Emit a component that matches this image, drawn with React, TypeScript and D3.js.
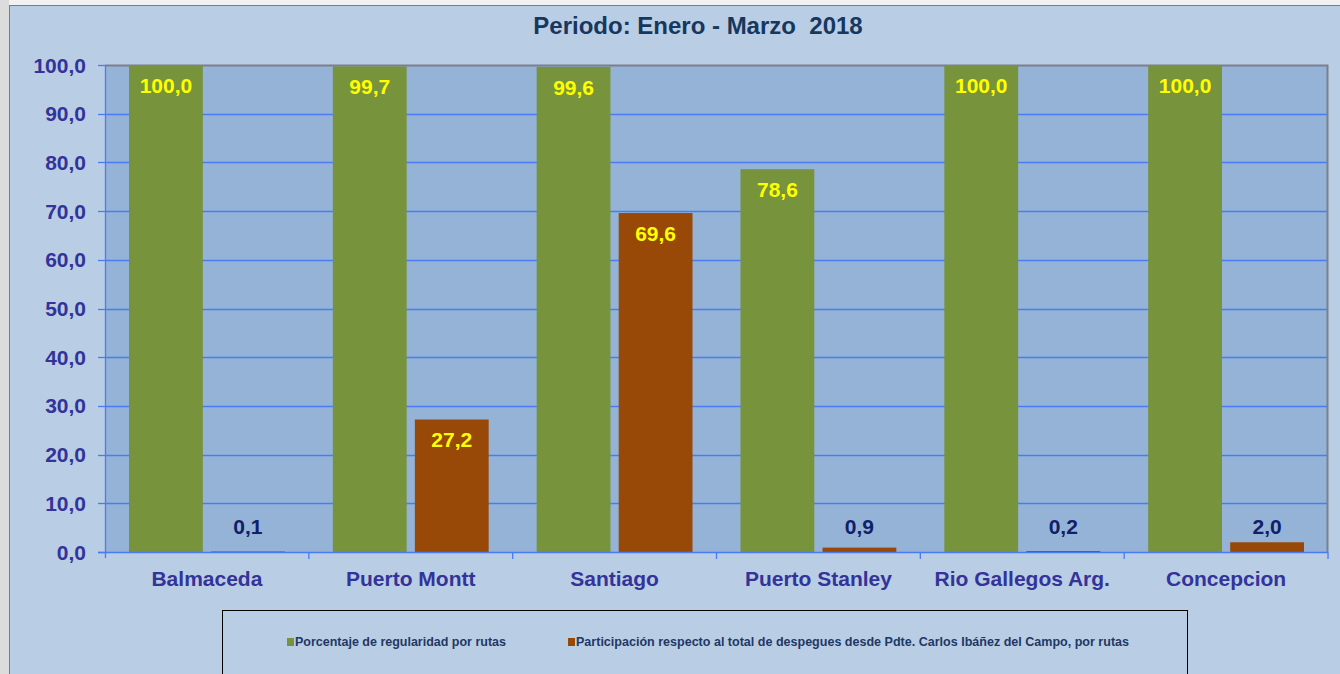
import React, { useRef, useEffect } from "react";
import { select, scaleBand, scaleLinear, range } from "d3";

const categories = ["Balmaceda", "Puerto Montt", "Santiago", "Puerto Stanley", "Rio Gallegos Arg.", "Concepcion"];
const regularidad = [100.0, 99.7, 99.6, 78.6, 100.0, 100.0];
const participacion = [0.1, 27.2, 69.6, 0.9, 0.2, 2.0];
const seriesNames = [
  "Porcentaje de regularidad por rutas",
  "Participación respecto al total de despegues desde Pdte. Carlos Ibáñez del Campo, por rutas",
];
const seriesColors = ["#77933c", "#984807"];
const yTicks = range(0, 101, 10);
const title = "Periodo: Enero - Marzo  2018";

const fmt = (v: number) => v.toFixed(1).replace(".", ",");

function App() {
  const svgRef = useRef<SVGSVGElement>(null);

  useEffect(() => {
    const svg = select(svgRef.current);
    svg.selectAll("*").remove();

    const W = 1340, H = 674;
    const left = 105, right = 1328, top = 65, bottom = 552;
    const font = "Liberation Sans, Arial, sans-serif";

    // page background strips
    svg.append("rect").attr("width", W).attr("height", H).attr("fill", "#f2f2f2");
    svg.append("rect").attr("x", 0).attr("y", 0).attr("width", 9).attr("height", H).attr("fill", "#dcdcdc");
    // chart area
    svg.append("rect").attr("x", 9.5).attr("y", 5.5).attr("width", W).attr("height", H)
      .attr("fill", "#b9cde5").attr("stroke", "#4f7cf7").attr("stroke-width", 1);

    // title
    svg.append("text").attr("x", 698).attr("y", 25).attr("dy", "0.36em").attr("text-anchor", "middle")
      .attr("font-family", font).attr("font-weight", "bold")
      .attr("font-size", 24).attr("fill", "#17375e").style("white-space", "pre").text(title);

    const x0 = scaleBand().domain(categories).range([left, right]).paddingInner(0).paddingOuter(0);
    const x1 = scaleBand<number>().domain([0, 1]).range([24, x0.bandwidth() - 24]).paddingInner(0.1);
    const y = scaleLinear().domain([0, 100]).range([bottom, top]);

    // plot area
    svg.append("rect").attr("x", left).attr("y", top).attr("width", right - left).attr("height", bottom - top)
      .attr("fill", "#95b3d7");

    // gridlines
    svg.selectAll(".grid").data(yTicks.filter((t) => t > 0 && t < 100)).join("line")
      .attr("class", "grid")
      .attr("x1", left).attr("x2", right)
      .attr("y1", (d) => Math.round(y(d)) + 0.5).attr("y2", (d) => Math.round(y(d)) + 0.5)
      .attr("stroke", "#4a7bf2").attr("stroke-width", 1.3);

    // top & right border
    svg.append("path")
      .attr("d", `M${left},${top + 0.5}H${right - 0.5}V${bottom}`)
      .attr("fill", "none").attr("stroke", "#7f7f8c").attr("stroke-width", 2);

    const rows = categories.map((c, i) => ({ cat: c, vals: [regularidad[i], participacion[i]] }));
    const bars = rows.flatMap((r) => r.vals.map((v, s) => ({ cat: r.cat, s, v })));

    svg.selectAll(".bar").data(bars).join("rect")
      .attr("class", "bar")
      .attr("x", (d) => (x0(d.cat) as number) + (x1(d.s) as number))
      .attr("width", x1.bandwidth())
      .attr("y", (d) => y(d.v))
      .attr("height", (d) => bottom - y(d.v))
      .attr("fill", (d) => seriesColors[d.s]);

    // axes
    svg.append("line").attr("x1", left - 7).attr("x2", right).attr("y1", bottom + 0.5).attr("y2", bottom + 0.5)
      .attr("stroke", "#4a7bf2").attr("stroke-width", 1.3);
    svg.append("line").attr("x1", left + 0.5).attr("x2", left + 0.5).attr("y1", top).attr("y2", bottom + 6)
      .attr("stroke", "#4a7bf2").attr("stroke-width", 1.3);
    svg.selectAll(".ytick").data(yTicks).join("line")
      .attr("class", "ytick")
      .attr("x1", left - 7).attr("x2", left)
      .attr("y1", (d) => Math.round(y(d)) + 0.5).attr("y2", (d) => Math.round(y(d)) + 0.5)
      .attr("stroke", "#4a7bf2").attr("stroke-width", 1.3);
    svg.selectAll(".xtick").data(categories.slice(1).concat(["end"])).join("line")
      .attr("class", "xtick")
      .attr("x1", (d, i) => x0.range()[0] + x0.step() * (i + 1))
      .attr("x2", (d, i) => x0.range()[0] + x0.step() * (i + 1))
      .attr("y1", bottom).attr("y2", bottom + 7)
      .attr("stroke", "#4a7bf2").attr("stroke-width", 1.3);

    svg.selectAll(".ylabel").data(yTicks).join("text")
      .attr("class", "ylabel")
      .attr("x", 86).attr("y", (d) => y(d)).attr("dy", "0.36em")
      .attr("text-anchor", "end")
      .attr("font-family", font).attr("font-weight", "bold")
      .attr("font-size", 21).attr("fill", "#333399")
      .text((d) => fmt(d));

    svg.selectAll(".xlabel").data(categories).join("text")
      .attr("class", "xlabel")
      .attr("x", (d) => (x0(d) as number) + x0.bandwidth() / 2).attr("y", 578).attr("dy", "0.36em")
      .attr("text-anchor", "middle")
      .attr("font-family", font).attr("font-weight", "bold")
      .attr("font-size", 21).attr("fill", "#333399")
      .text((d) => d);

    // value labels
    const inside = (d: { v: number }) => bottom - y(d.v) > 40;
    svg.selectAll(".vlabel").data(bars).join("text")
      .attr("class", "vlabel")
      .attr("x", (d) => (x0(d.cat) as number) + (x1(d.s) as number) + x1.bandwidth() / 2)
      .attr("y", (d) => (inside(d) ? y(d.v) + 20 : Math.min(y(d.v) - 11, 526)))
      .attr("dy", "0.36em")
      .attr("text-anchor", "middle")
      .attr("font-family", font).attr("font-weight", "bold")
      .attr("font-size", 21).attr("fill", (d) => (inside(d) ? "#ffff00" : "#10206a"))
      .text((d) => fmt(d.v));

    // legend
    svg.append("rect").attr("x", 222.5).attr("y", 610.5).attr("width", 965).attr("height", 80)
      .attr("fill", "none").attr("stroke", "#000").attr("stroke-width", 1);
    const legendX = [287, 568];
    const legendW = [211, 553];
    seriesNames.forEach((name, i) => {
      svg.append("rect").attr("x", legendX[i]).attr("y", 638).attr("width", 7).attr("height", 8)
        .attr("fill", seriesColors[i]);
      svg.append("text").attr("x", legendX[i] + 8).attr("y", 642).attr("dy", "0.36em")
        .attr("font-family", font).attr("font-weight", "bold")
        .attr("font-size", 12).attr("fill", "#1f3864")
        .attr("textLength", legendW[i]).attr("lengthAdjust", "spacingAndGlyphs")
        .text(name);
    });
  }, []);

  return (
    <div style={{ position: "absolute", left: 0, top: 0 }}>
      <svg ref={svgRef} width={1340} height={674} style={{ display: "block" }}></svg>
    </div>
  );
}

export default App;
